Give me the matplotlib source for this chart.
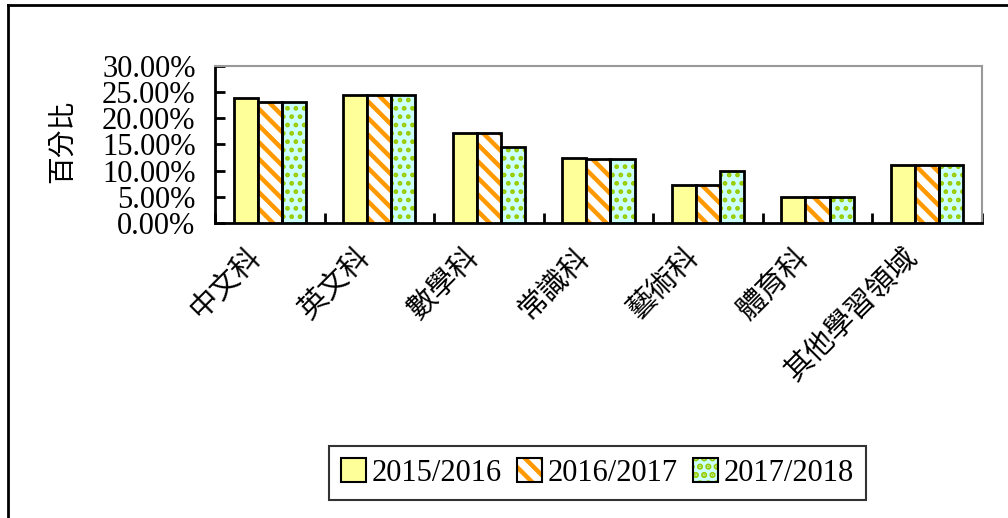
import matplotlib
matplotlib.use("Agg")
import matplotlib.pyplot as plt
import numpy as np
from matplotlib.patches import Patch
from matplotlib.legend_handler import HandlerTuple
from matplotlib.lines import Line2D

categories = ["中文科", "英文科", "數學科", "常識科", "藝術科", "體育科", "其他學習領域"]
series_names = ["2015/2016", "2016/2017", "2017/2018"]
y2015 = [23.8, 24.5, 17.2, 12.5, 7.3, 4.9, 11.0]
y2016 = [23.2, 24.5, 17.2, 12.2, 7.3, 4.9, 11.0]
y2017 = [23.2, 24.5, 14.6, 12.2, 9.9, 4.9, 11.0]
yticks = [0, 5, 10, 15, 20, 25, 30]

serif = ["Liberation Serif", "DejaVu Serif"]
cjk = ["Noto Sans CJK TC", "DejaVu Sans"]
plt.rcParams["hatch.linewidth"] = 3.2

fig = plt.figure(figsize=(10.08, 5.18), dpi=100)
ax = fig.add_axes([0.2133, 0.5695, 0.7607, 0.3031])

x = np.arange(len(categories))
w = 0.22
lw = 2.0
stripes = "\\\\"
dots = ".."

# 2015/2016 solid yellow
ax.bar(x - w, y2015, w, color="#FFFF99", edgecolor="black", linewidth=lw, zorder=3)
# 2016/2017 orange stripes on white
ax.bar(x, y2016, w, color="white", edgecolor="#FF9900", hatch=stripes,
       linewidth=0, zorder=3)
ax.bar(x, y2016, w, fill=False, edgecolor="black", linewidth=lw, zorder=4)
# 2017/2018 green dots on light cyan
with plt.rc_context({"hatch.linewidth": 2.2}):
    ax.bar(x + w, y2017, w, color="#CCFFFF", edgecolor="#99CC00", hatch=dots,
           linewidth=0, zorder=3)
    h3_fill = Patch(facecolor="#CCFFFF", edgecolor="#99CC00", hatch=dots, linewidth=0)
ax.bar(x + w, y2017, w, fill=False, edgecolor="black", linewidth=lw, zorder=4)

ax.set_xlim(-0.5, len(categories) - 0.5)
ax.set_ylim(0, 30)
ax.set_yticks(yticks)
ax.set_yticklabels(["%.2f%%" % v for v in yticks], family=serif, fontsize=22)
ax.tick_params(axis="y", direction="in", length=7, width=2, pad=14)

ax.set_xticks(np.arange(len(categories) + 1) - 0.5, minor=False)
ax.set_xticklabels([])
ax.tick_params(axis="x", direction="in", length=7, width=2)
for i, c in enumerate(categories):
    ax.annotate(c, xy=(i, 0), xycoords=("data", "axes fraction"),
                xytext=(-2, -14), textcoords="offset points",
                rotation=45, ha="right", va="top",
                family=cjk, fontsize=21)

ax.spines["left"].set_linewidth(2)
ax.spines["bottom"].set_linewidth(2)
ax.spines["top"].set_color("#999999")
ax.spines["right"].set_color("#999999")
ax.spines["top"].set_linewidth(1.5)
ax.spines["right"].set_linewidth(1.5)

fig.text(0.062, 0.727, "百分比", rotation=90, ha="center", va="center",
         family=cjk, fontsize=20)

h1 = Patch(facecolor="#FFFF99", edgecolor="black", linewidth=1.5)
h2 = (Patch(facecolor="white", edgecolor="#FF9900", hatch=stripes, linewidth=0),
      Patch(fill=False, edgecolor="black", linewidth=1.5))
h3 = (h3_fill, Patch(fill=False, edgecolor="black", linewidth=1.5))
leg = fig.legend([h1, h2, h3], series_names, loc="center",
                 bbox_to_anchor=(0.593, 0.087), ncol=3,
                 handler_map={tuple: HandlerTuple(ndivide=1, pad=0)},
                 prop={"family": serif, "size": 22},
                 frameon=True, fancybox=False, edgecolor="black",
                 handlelength=0.8, handleheight=0.8, handletextpad=0.2,
                 columnspacing=0.5, borderpad=0.4)
leg.get_frame().set_linewidth(1.5)

# outer chart border
fig.add_artist(Line2D([8 / 1008, 1], [1 - 5 / 518, 1 - 5 / 518],
                      transform=fig.transFigure, color="black", linewidth=2))
fig.add_artist(Line2D([8 / 1008, 8 / 1008], [0, 1 - 5 / 518],
                      transform=fig.transFigure, color="black", linewidth=2))

fig.savefig("out.png", dpi=100)
